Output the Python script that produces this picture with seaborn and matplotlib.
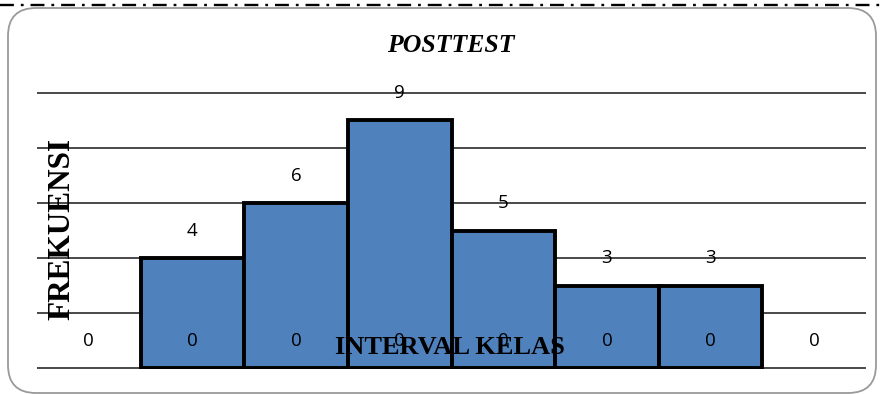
import matplotlib
matplotlib.use("Agg")
import matplotlib.pyplot as plt
import seaborn as sns
import pandas as pd
from matplotlib.patches import FancyBboxPatch
from matplotlib.lines import Line2D

# Frequency table of the posttest scores per class interval
kelas = ["I", "II", "III", "IV", "V", "VI", "VII", "VIII"]
frekuensi = [0, 4, 6, 9, 5, 3, 3, 0]
seri_nol = [0, 0, 0, 0, 0, 0, 0, 0]
judul = "POSTTEST"
label_x = "INTERVAL KELAS"
label_y = "FREKUENSI"
y_ticks = [0, 2, 4, 6, 8, 10]

sns.set_style("white")
plt.rcParams["font.family"] = ["Liberation Serif", "DejaVu Serif"]
plt.rcParams["text.color"] = "black"
plt.rcParams["lines.scale_dashes"] = False

df = pd.DataFrame({"kelas": kelas, "frekuensi": frekuensi, "nol": seri_nol})

fig = plt.figure(figsize=(8.82, 3.94), dpi=100)
ax = fig.add_axes([37 / 882, 1 - 369.4 / 394, (866 - 37) / 882, (369.4 - 91.6) / 394])

sns.barplot(data=df, x="kelas", y="frekuensi", color="#4F81BD", saturation=1,
            width=1.0, edgecolor="black", linewidth=2.8, ax=ax, zorder=2)
for p in ax.patches:
    if p.get_height() == 0:
        p.set_linewidth(0)

ax.set_xlim(-0.5, len(kelas) - 0.5)
ax.set_ylim(-0.05, 10.05)
ax.set_yticks(y_ticks)
ax.yaxis.grid(True, color="#2a2a2a", linewidth=1.2)
ax.set_axisbelow(True)
ax.tick_params(left=False, bottom=False, labelleft=False, labelbottom=False)
ax.set_xlabel("")
ax.set_ylabel("")
for s in ax.spines.values():
    s.set_visible(False)

lbl_font = dict(family=["Open Sans", "DejaVu Sans"], fontsize=13.5, color="black")
for i, v in enumerate(frekuensi):
    if v > 0:
        ax.annotate(str(v), (i, v), xytext=(0, 19.5), textcoords="offset points",
                    ha="center", va="center", zorder=5, **lbl_font)
for i, v in enumerate(seri_nol):
    ax.annotate(str(v), (i, v), xytext=(0, 19.5), textcoords="offset points",
                ha="center", va="center", zorder=5, **lbl_font)

fig.text(451 / 882, 1 - 45 / 394, judul, ha="center", va="center",
         fontsize=18.5, fontweight="bold", fontstyle="italic", color="black")
fig.text(450 / 882, 1 - 348 / 394, label_x, ha="center", va="center",
         fontsize=19, fontweight="bold", color="black", zorder=10)
fig.text(62 / 882, 1 - 229 / 394, label_y, ha="center", va="center",
         rotation=90, fontsize=22.5, fontweight="bold", color="black", zorder=10)

# Rounded chart border
frame = FancyBboxPatch((0.08, 0.01), 8.68, 3.85, boxstyle="round,pad=0,rounding_size=0.28",
                       transform=fig.dpi_scale_trans, facecolor="none",
                       edgecolor="#9a9a9a", linewidth=1.3, zorder=0)
fig.patches.append(frame)

# Dash-dot rule along the top edge
rule = Line2D([0, 1], [1 - 5 / 394, 1 - 5 / 394], transform=fig.transFigure,
              color="black", linewidth=1.7, dashes=(10, 5, 2, 5))
fig.lines.append(rule)

fig.savefig("out.png", dpi=100)
